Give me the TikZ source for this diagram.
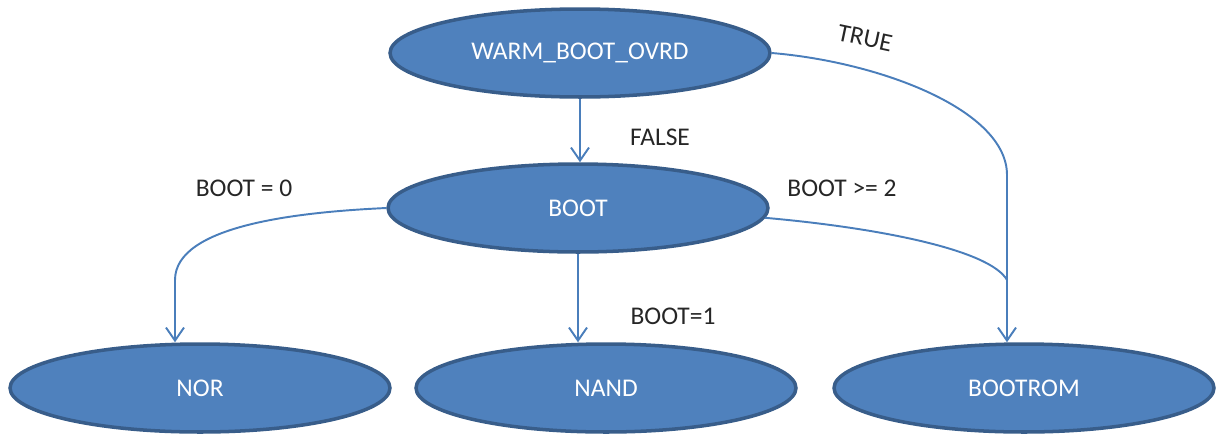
\documentclass[tikz,border=0pt]{standalone}
\usepackage{fontspec}
\setmainfont{Carlito}
\usetikzlibrary{shapes.geometric,arrows.meta}
\definecolor{stateblue}{RGB}{79,129,189}
\definecolor{stateedge}{RGB}{56,93,138}
\definecolor{linkblue}{RGB}{74,126,187}

\begin{document}
\begin{tikzpicture}[x=0.02cm,y=-0.02cm,
  state/.style={ellipse,draw=stateedge,line width=2pt,fill=stateblue,text=white,
    minimum width=7.6cm,minimum height=1.76cm,inner sep=0pt,font=\fontsize{14.5}{17}\selectfont},
  lbl/.style={text=black!85,font=\fontsize{14.5}{17}\selectfont},
  wire/.style={draw=linkblue,line width=1.1pt},
  link/.style={wire,-{Straight Barb[length=2.6mm,width=3.6mm]}}]
\useasboundingbox (0,0) rectangle (1217,437);
\node[state] (W) at (580,53) {WARM\_BOOT\_OVRD};
\node[state] (B) at (578,208) {BOOT};
\node[state] (N1) at (200,388) {NOR};
\node[state] (N2) at (606,388) {NAND};
\node[state] (R) at (1024,388) {BOOTROM};
\node[lbl] (lf) at (660,137) {FALSE};
\node[lbl,rotate=-12] (lt) at (865,38) {TRUE};
\node[lbl] (l0) at (244,188) {BOOT = 0};
\node[lbl] (l1) at (673,316) {BOOT=1};
\node[lbl] (l2) at (842,188) {BOOT >= 2};
\coordinate (bend0) at (175,280);
\coordinate (jtrue) at (1007,175);
\coordinate (jtwo) at (1007,280);
\draw[link] (W.south) -- (W.south |- B.north);
\draw[link] (B.south) -- (B.south |- N2.north);
\draw[link] (B.west) .. controls (300,212) and (175,225) .. (bend0) -- (bend0 |- N1.north);
\draw[link] (W.east) .. controls (880,62) and (1007,110) .. (jtrue) -- (jtrue |- R.north);
\draw[wire] (B.-3) .. controls (880,228) and (990,250) .. (jtwo);
\end{tikzpicture}
\end{document}
